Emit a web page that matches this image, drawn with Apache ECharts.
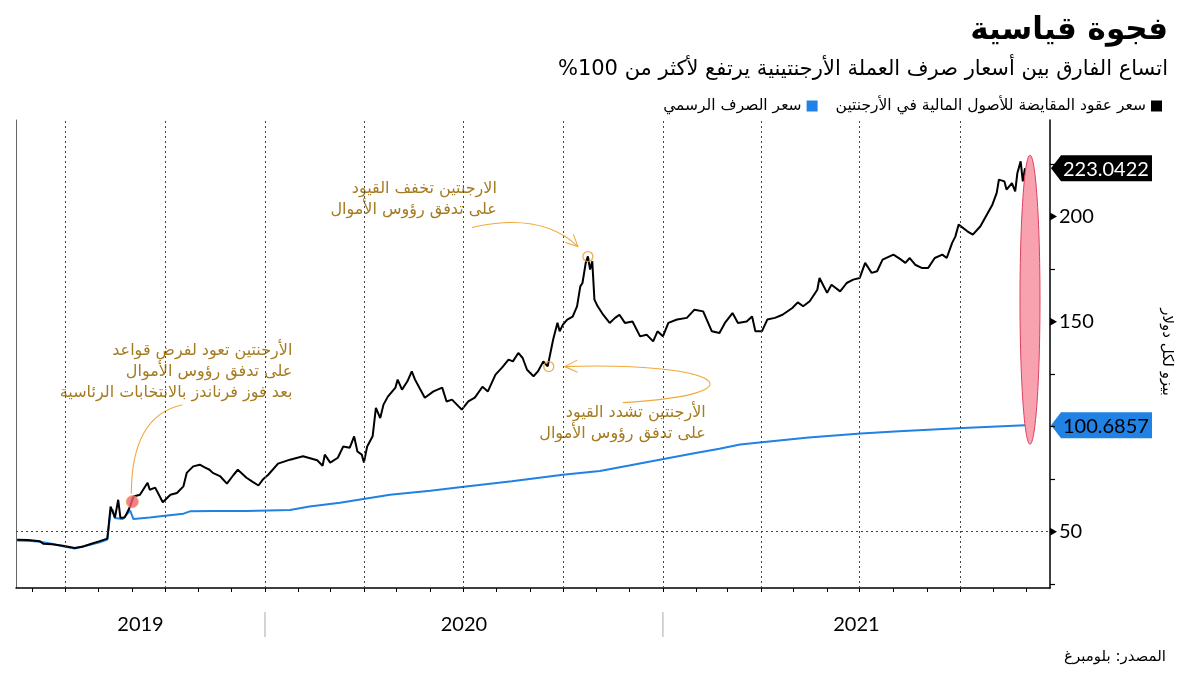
<!DOCTYPE html>
<html><head><meta charset="utf-8">
<script src="https://cdn.jsdelivr.net/npm/echarts@6/dist/echarts.min.js"></script>
<style>html,body{margin:0;padding:0;background:#fff}#c{width:1200px;height:675px}</style>
</head><body><div id="c"></div>
<script>
const titleText = 'فجوة قياسية';
const subtitleText = 'اتساع الفارق بين أسعار صرف العملة الأرجنتينية يرتفع لأكثر من 100%';
const cclName = 'سعر عقود المقايضة للأصول المالية في الأرجنتين';
const officialName = 'سعر الصرف الرسمي';
const yAxisTitle = 'بيزو لكل دولار';
const sourceText = 'المصدر: بلومبرغ';

const xMin = '2019-05-17';
const xMax = '2021-12-23';
const yMin = 23.2;
const yMax = 246;
const yLabelValues = [50, 150, 200];
const yTickValues = [25, 50, 75, 100, 125, 150, 175, 200, 225];
const years = [2019, 2020, 2021];

const cclDates = [
'2019-05-18','2019-05-28','2019-06-08','2019-06-11','2019-06-19','2019-06-29','2019-07-10','2019-07-18','2019-07-24','2019-08-02',
'2019-08-09','2019-08-12','2019-08-13','2019-08-16','2019-08-19','2019-08-21','2019-08-25','2019-08-30','2019-09-02','2019-09-08',
'2019-09-15','2019-09-17','2019-09-22','2019-09-29','2019-10-06','2019-10-12','2019-10-18','2019-10-21','2019-10-27','2019-11-02',
'2019-11-07','2019-11-11','2019-11-14','2019-11-21','2019-11-27','2019-12-03','2019-12-07','2019-12-15','2019-12-20','2019-12-26',
'2019-12-30','2020-01-04','2020-01-13','2020-01-24','2020-02-05','2020-02-18','2020-02-23','2020-02-25','2020-03-01','2020-03-08',
'2020-03-13','2020-03-19','2020-03-23','2020-03-26','2020-03-30','2020-04-01','2020-04-04','2020-04-09','2020-04-12','2020-04-16',
'2020-04-19','2020-04-23','2020-04-30','2020-05-02','2020-05-06','2020-05-11','2020-05-15','2020-05-18','2020-05-23','2020-05-27',
'2020-06-04','2020-06-12','2020-06-16','2020-06-21','2020-06-30','2020-07-06','2020-07-12','2020-07-19','2020-07-24','2020-07-31',
'2020-08-06','2020-08-12','2020-08-16','2020-08-21','2020-08-25','2020-08-29','2020-09-04','2020-09-08','2020-09-13','2020-09-17',
'2020-09-22','2020-09-26','2020-09-28','2020-10-01','2020-10-05','2020-10-10','2020-10-14','2020-10-17','2020-10-19','2020-10-22',
'2020-10-24','2020-10-26','2020-10-28','2020-10-30','2020-11-02','2020-11-07','2020-11-13','2020-11-18','2020-11-22','2020-11-27',
'2020-12-04','2020-12-11','2020-12-17','2020-12-23','2020-12-27','2021-01-01','2021-01-06','2021-01-14','2021-01-23','2021-01-30',
'2021-02-07','2021-02-15','2021-02-22','2021-02-27','2021-03-06','2021-03-11','2021-03-19','2021-03-24','2021-03-27','2021-04-02',
'2021-04-07','2021-04-14','2021-04-21','2021-04-30','2021-05-05','2021-05-10','2021-05-16','2021-05-23','2021-05-25','2021-06-01',
'2021-06-05','2021-06-13','2021-06-19','2021-06-25','2021-07-01','2021-07-06','2021-07-12','2021-07-17','2021-07-22','2021-08-01',
'2021-08-07','2021-08-12','2021-08-16','2021-08-21','2021-08-27','2021-09-02','2021-09-08','2021-09-15','2021-09-19','2021-09-24',
'2021-09-27','2021-09-30','2021-10-08','2021-10-13','2021-10-20','2021-10-26','2021-10-31','2021-11-04','2021-11-06','2021-11-11',
'2021-11-13','2021-11-18','2021-11-21','2021-11-23','2021-11-26','2021-11-28','2021-11-30'
];
const cclValues = [
46.2,46.0,45.4,44.3,44.0,43.3,42.2,43.0,44.0,45.5,
46.7,62.0,62.9,56.7,65.2,56.7,56.8,62.0,66.8,67.6,
73.3,70.0,71.0,64.0,67.6,68.4,71.6,78.0,81.1,81.9,
80.5,79.5,78.0,76.3,72.9,77.0,79.5,75.7,74.0,72.0,
74.8,77.1,82.4,84.3,85.9,84.0,81.4,86.7,82.9,85.2,
90.6,90.0,95.4,88.2,86.7,82.9,90.6,95.4,109.0,104.1,
110.5,114.3,118.6,122.4,117.6,121.6,126.3,122.4,117.6,113.8,
116.8,118.6,112.0,112.9,108.1,112.0,113.8,119.0,116.8,124.8,
128.1,131.9,131.1,135.1,132.7,127.1,124.0,126.3,131.1,128.7,
141.4,149.5,145.4,148.6,151.0,152.4,157.3,166.8,168.4,178.0,
181.1,174.8,178.7,160.5,157.3,153.3,149.4,151.8,153.3,149.4,
150.1,143.0,143.8,140.6,145.4,143.0,149.4,151.0,151.8,155.7,
154.9,145.4,144.6,149.4,154.1,149.4,150.1,152.5,145.4,145.4,
151.0,151.8,153.3,156.5,159.2,157.3,159.7,165.2,170.8,163.7,
167.6,164.4,168.4,170.0,170.8,178.0,173.2,174.0,179.5,181.9,
179.9,178.0,180.3,177.1,175.6,175.6,180.3,181.9,180.3,187.5,
190.6,196.2,193.0,191.4,195.4,201.0,205.7,211.3,217.6,216.8,
212.9,216.0,212.0,220.8,226.3,216.8,223.0422
];

const officialDates = [
'2019-05-18','2019-05-31','2019-06-08','2019-06-20','2019-06-29','2019-07-10','2019-07-24','2019-08-02','2019-08-09','2019-08-12',
'2019-08-14','2019-08-16','2019-08-23','2019-08-30','2019-09-02','2019-09-17','2019-10-01','2019-10-18','2019-10-24','2019-11-15',
'2019-12-15','2020-01-24','2020-02-11','2020-03-10','2020-04-02','2020-04-25','2020-06-01','2020-06-30','2020-08-15','2020-10-01',
'2020-11-04','2020-12-01','2020-12-29','2021-01-31','2021-02-22','2021-03-13','2021-04-02','2021-05-15','2021-07-02','2021-08-06',
'2021-10-04','2021-11-30'
];
const officialValues = [
45.8,45.6,45.2,44.2,43.1,42.0,43.8,45.0,46.3,59.5,
60.5,56.5,56.0,60.1,56.0,56.8,57.6,58.6,59.7,59.8,
59.9,60.3,62.0,63.8,65.7,67.6,69.5,71.3,74.0,77.1,
78.9,81.5,84.3,87.5,89.5,91.5,92.6,94.8,96.7,97.8,
99.4,100.6857
];

const eventDates = ['2019-09-01', '2020-09-18', '2020-10-24'];
const eventValues = [64.3, 128.6, 181.0];
const eventNotes = [
  'الأرجنتين تعود لفرض قواعد\nعلى تدفق رؤوس الأموال\nبعد فوز فرناندز بالانتخابات الرئاسية',
  'الأرجنتين تشدد القيود\nعلى تدفق رؤوس الأموال',
  'الارجنتين تخفف القيود\nعلى تدفق رؤوس الأموال'
];

const AR = '"DejaVu Sans", sans-serif';
const NUM = 'Lato, "Open Sans", sans-serif';
const GOLD = '#a67b20';
const ARROW = '#f0a93c';
const BLUE = '#1f82e4';
// right-to-left paragraph; percent sign kept on the left of the number as in the original typesetting
const RTL = s => '\u202B' + s.replace(/(\d)%/g, '$1\u200F%') + '\u202C';

const T = s => { const p = s.split('-').map(Number); return +new Date(p[0], p[1] - 1, p[2]); };
const tMin = T(xMin), tMax = T(xMax);

const monthTicks = [], quarterLines = [];
for (let y = 2019; y <= 2021; y++) {
  for (let m = 0; m < 12; m++) {
    const t = +new Date(y, m, 1);
    if (t > tMin && t < tMax) {
      monthTicks.push(t);
      if (m % 3 === 0) quarterLines.push(t);
    }
  }
}
const yearMids = years.map(y => {
  const a = Math.max(tMin, +new Date(y, 0, 1));
  const b = Math.min(tMax, +new Date(y + 1, 0, 1));
  return (a + b) / 2;
});
const yearStarts = years.map(y => +new Date(y, 0, 1)).filter(t => t > tMin && t < tMax);

const grid = {left: 16, right: 150, top: 120, bottom: 87};

const chart = echarts.init(document.getElementById('c'));
chart.setOption({
  animation: false,
  backgroundColor: '#fff',
  legend: {
    data: [officialName, cclName], right: 33, top: 93, align: 'right',
    icon: 'rect', itemWidth: 11, itemHeight: 11, itemGap: 18,
    textStyle: {fontFamily: AR, fontSize: 15.5, color: '#000'}
  },
  grid: grid,
  xAxis: [{
    type: 'value', min: tMin, max: tMax,
    axisLine: {lineStyle: {color: '#000', width: 1.5}},
    axisTick: {show: true, customValues: monthTicks, length: 4, lineStyle: {color: '#000', width: 1}},
    axisLabel: {customValues: yearMids, formatter: v => String(new Date(v).getFullYear()),
      margin: 27, fontSize: 20, fontFamily: NUM, color: '#000'},
    splitLine: {show: false}
  }],
  yAxis: [{
    type: 'value', position: 'right', min: yMin, max: yMax,
    axisLine: {show: true, lineStyle: {color: '#000', width: 1.5}},
    axisTick: {show: true, customValues: yTickValues, length: 5, lineStyle: {color: '#000', width: 1.2}},
    axisLabel: {customValues: yLabelValues, fontSize: 20, fontFamily: NUM, color: '#000', margin: 9},
    splitLine: {show: false}
  }, {
    type: 'value', position: 'left', min: yMin, max: yMax,
    axisLine: {show: true, lineStyle: {color: '#666', width: 1}},
    axisTick: {show: false}, axisLabel: {show: false}, splitLine: {show: false}
  }],
  series: [{
    name: cclName, type: 'line', data: cclDates.map((d, i) => [T(d), cclValues[i]]),
    showSymbol: false, symbol: 'none', color: '#000',
    lineStyle: {color: '#000', width: 2}, z: 4,
    markLine: {
      silent: true, symbol: 'none', label: {show: false},
      lineStyle: {color: '#444', width: 1, type: [2, 3]},
      data: [{yAxis: 50}].concat(quarterLines.map(t => ({xAxis: t})))
    }
  }, {
    name: officialName, type: 'line', data: officialDates.map((d, i) => [T(d), officialValues[i]]),
    showSymbol: false, symbol: 'none', color: BLUE,
    lineStyle: {color: BLUE, width: 2}, z: 3
  }, {
    name: 'events', type: 'scatter', z: 6,
    data: eventDates.map((d, i) => ({
      value: [T(d), eventValues[i]],
      symbolSize: i === 0 ? 12 : 10,
      itemStyle: i === 0
        ? {color: '#f25f6b', borderColor: '#f6a64a', borderWidth: 1}
        : {color: 'rgba(255,255,255,0)', borderColor: '#e39a2c', borderWidth: 1.3}
    }))
  }]
});

const P = (t, v) => chart.convertToPixel({xAxisIndex: 0, yAxisIndex: 0}, [t, v]);
const e1 = P(T(eventDates[0]), eventValues[0]);
const e2 = P(T(eventDates[1]), eventValues[1]);
const e3 = P(T(eventDates[2]), eventValues[2]);
const lastT = T(cclDates[cclDates.length - 1]);
const lastCcl = cclValues[cclValues.length - 1];
const lastOff = officialValues[officialValues.length - 1];
const pB = P(lastT, lastCcl);
const pO = P(T(officialDates[officialDates.length - 1]), lastOff);
const axisX = 1200 - grid.right;
const bottomY = 675 - grid.bottom;

function curve(p0, c1, c2, p1) {
  return {type: 'bezierCurve', silent: true,
    shape: {x1: p0[0], y1: p0[1], cpx1: c1[0], cpy1: c1[1], cpx2: c2[0], cpy2: c2[1], x2: p1[0], y2: p1[1]},
    style: {stroke: ARROW, lineWidth: 1.1, fill: null}};
}
function chevron(tip, from, len) {
  const ang = Math.atan2(tip[1] - from[1], tip[0] - from[0]);
  const a1 = ang + Math.PI - 0.45, a2 = ang + Math.PI + 0.45;
  return {type: 'polyline', silent: true,
    shape: {points: [[tip[0] + len * Math.cos(a1), tip[1] + len * Math.sin(a1)], tip,
                     [tip[0] + len * Math.cos(a2), tip[1] + len * Math.sin(a2)]]},
    style: {stroke: ARROW, lineWidth: 1.1, fill: null}};
}
const add = (p, dx, dy) => [p[0] + dx, p[1] + dy];
function note(text, x, y) {
  return {type: 'text', silent: true, style: {text: text, x: x, y: y, align: 'right', verticalAlign: 'top',
    fontFamily: AR, fontSize: 16, lineHeight: 21, fill: GOLD}};
}
function tag(y, label, bg, fg) {
  return {type: 'group', z: 60, children: [
    {type: 'polygon', shape: {points: [[axisX + 1, y], [axisX + 11, y - 13], [axisX + 102, y - 13], [axisX + 102, y + 13], [axisX + 11, y + 13]]},
     style: {fill: bg}},
    {type: 'text', style: {text: label, x: axisX + 13, y: y + 1, align: 'left', verticalAlign: 'middle',
      fontFamily: NUM, fontSize: 20, fill: fg}}
  ]};
}
function tickMark(v) {
  const y = P(tMax, v)[1];
  return {type: 'polygon', silent: true, z: 5,
    shape: {points: [[axisX, y - 4], [axisX + 7, y], [axisX, y + 4]]}, style: {fill: '#000'}};
}

const a2Tip = add(e3, -10, -10);
const a2c2 = add(e3, -33, -32);
const a3Tip = add(e2, 16, 0);
const a3c2 = add(e2, 176, -5);

const graphics = [
  {type: 'text', silent: true, style: {text: titleText, x: 1168, y: 31, align: 'right', verticalAlign: 'middle',
    fontFamily: AR, fontSize: 31, fontWeight: 'bold', fill: '#000'}},
  {type: 'text', silent: true, style: {text: RTL(subtitleText), x: 1168, y: 70, align: 'right', verticalAlign: 'middle',
    fontFamily: AR, fontSize: 21, fill: '#000'}},
  note(eventNotes[0], e1[0] + 160, e1[1] - 161),
  curve(add(e1, 50, -97), add(e1, 18, -90), add(e1, -1, -62), add(e1, -1, -8)),
  note(eventNotes[1], e2[0] + 157, e2[1] + 36),
  curve(add(e2, 74, 36), add(e2, 216, 28), a3c2, a3Tip),
  chevron(a3Tip, a3c2, 14),
  note(eventNotes[2], e3[0] - 91, e3[1] - 78),
  curve(add(e3, -116, -29), add(e3, -68, -40), a2c2, a2Tip),
  chevron(a2Tip, a2c2, 13),
  {type: 'ellipse', z: 50, silent: true,
   shape: {cx: pB[0] + 5, cy: (pB[1] + pO[1]) / 2 + 3, rx: 10, ry: (pO[1] - pB[1]) / 2 + 16},
   style: {fill: '#f8a2b0', stroke: '#de3f5c', lineWidth: 1}},
  tag(pB[1], lastCcl.toFixed(4), '#000', '#fff'),
  tag(pO[1], lastOff.toFixed(4), BLUE, '#000'),
  {type: 'text', silent: true, x: 1167, y: 352, rotation: -Math.PI / 2,
   style: {text: yAxisTitle, x: 0, y: 0, align: 'center', verticalAlign: 'middle', fontFamily: AR, fontSize: 15, fill: '#000'}},
  {type: 'text', silent: true, style: {text: sourceText, x: 1166, y: 657, align: 'right', verticalAlign: 'middle',
    fontFamily: AR, fontSize: 15, fill: '#000'}}
].concat(yLabelValues.map(tickMark)).concat(yearStarts.map(t => {
  const x = P(t, yMin)[0];
  return {type: 'line', silent: true, shape: {x1: x, y1: bottomY + 24, x2: x, y2: bottomY + 49},
    style: {stroke: '#aaa', lineWidth: 1}};
}));

chart.setOption({graphic: graphics});
</script>
</body></html>
